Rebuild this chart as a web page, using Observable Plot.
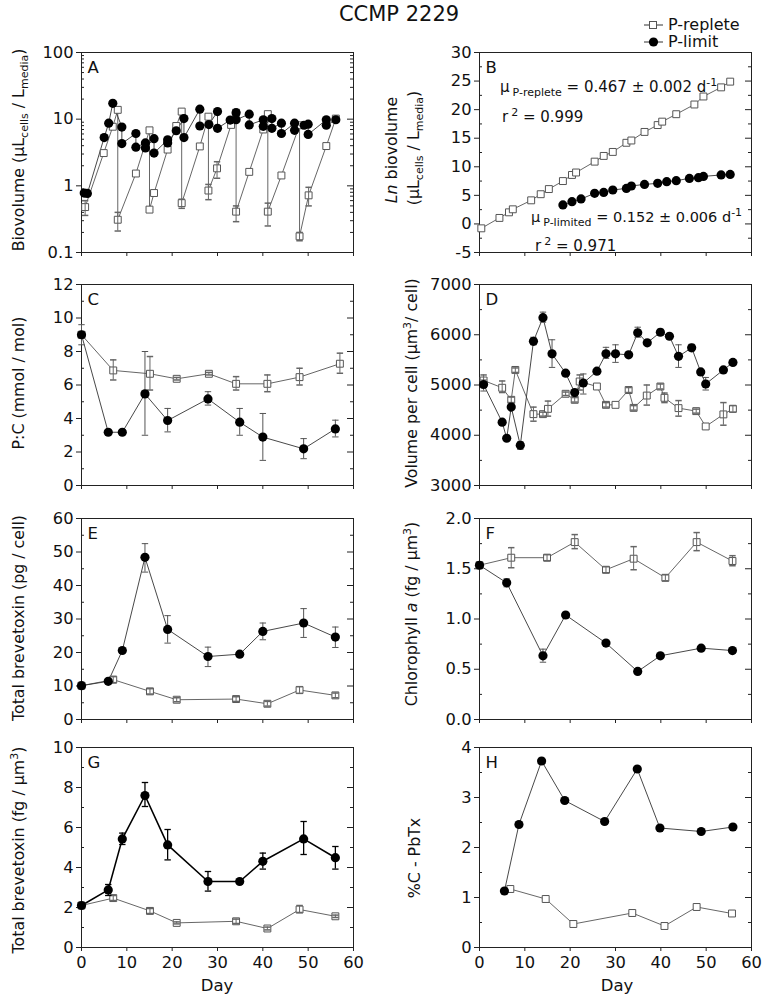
<!DOCTYPE html>
<html><head><meta charset="utf-8">
<script src="https://cdn.jsdelivr.net/npm/d3@7"></script>
<script src="https://cdn.jsdelivr.net/npm/@observablehq/plot@0.6"></script>
<style>
body{margin:0;background:#fff;font-family:"DejaVu Sans",sans-serif;color:#111;}
#wrap{position:relative;width:768px;height:1008px;overflow:hidden;background:#fff;}
.t{position:absolute;white-space:nowrap;line-height:18px;}
.yl{position:absolute;white-space:nowrap;font-size:15.8px;line-height:18px;transform:translate(-50%,-50%) rotate(-90deg);}
sub,sup{font-size:11px;line-height:0;}
.c{transform:translate(-50%,-50%);}
</style></head>
<body><div id="wrap"></div>
<script>
// ---------- data: [day, value, errLow, errHigh] ----------
const A_replete = [[0.8,0.48,0.36,0.60],[4.9,3.1],[6.9,7.7],[8.0,13.8],[8.0,0.31,0.21,0.40],[12.0,1.53],[15.0,6.8],[15.0,0.44],[16.0,0.78],[19.0,3.5],[20.9,7.9],[22.1,13.0],[22.1,0.55,0.46,0.63],[26.1,3.9],[28.0,10.9],[28.0,0.85,0.62,1.05],[29.9,1.83,1.3,2.3],[33.0,8.2],[34.1,12.5],[34.1,0.41,0.29,0.5],[37.0,1.62],[40.1,7.0],[41.1,11.9],[41.1,0.41,0.25,0.55],[44.1,1.43],[48.1,8.1],[48.1,0.175,0.15,0.2],[50.1,0.72,0.5,0.95],[54.0,3.95],[56.1,10.2]];
const A_limit = [[0.6,0.78],[1.3,0.77],[5.0,5.3],[6.0,8.7],[6.9,17.3],[8.9,7.6],[8.9,4.3],[12.0,6.1],[12.0,3.8],[14.1,4.4],[14.1,3.7],[16.0,5.1],[16.0,3.1],[19.0,4.9],[19.0,4.4],[20.9,6.7],[22.6,10.2],[22.6,5.3],[26.1,14.1],[26.1,7.9],[28.1,8.3],[30.0,13.0],[30.0,7.3],[32.8,9.7],[34.1,12.5],[34.1,9.8],[37.0,11.9],[37.0,8.2],[40.1,9.8],[40.1,7.8],[42.0,10.2],[42.0,7.3],[44.1,8.7],[44.1,6.1],[47.0,8.7],[47.0,6.8],[49.1,8.1],[50.0,8.4],[50.0,5.9],[54.0,9.8],[54.0,8.1],[56.1,9.8]];
const B_replete = [[0.4,-0.77],[4.4,1.05],[6.5,2.03],[7.35,2.56],[11.4,4.13],[13.5,5.2],[15.3,6.1],[18.4,7.5],[20.4,8.57],[21.3,9.0],[25.4,10.9],[27.4,11.9],[29.4,12.6],[32.4,14.2],[33.5,14.6],[36.4,16.1],[39.3,17.3],[40.3,17.9],[43.4,19.2],[47.4,20.9],[49.4,22.3],[53.3,23.9],[55.3,24.9]];
const B_limit = [[18.4,3.32],[20.4,3.9],[22.4,4.37],[25.4,5.35],[27.4,5.52],[29.4,5.94],[32.4,6.22],[33.5,6.64],[36.4,6.92],[39.3,7.1],[41.3,7.4],[43.4,7.57],[46.3,7.97],[48.3,8.09],[49.4,8.32],[53.3,8.57],[55.3,8.67]];
const C_replete = [[0,9.0],[7.0,6.87,6.3,7.5],[15.1,6.67,5.7,7.7],[21.0,6.37,6.3,6.45],[28.1,6.67,6.6,6.75],[34.1,6.07,5.7,6.5],[41.0,6.07,5.6,6.6],[48.1,6.47,6.0,7.0],[57.0,7.27,6.7,7.9]];
const C_limit = [[0,9.0,8.4,9.6],[5.9,3.18],[9.0,3.18],[14.0,5.47,3.0,8.0],[19.0,3.88,3.2,4.6],[27.9,5.17,4.8,5.6],[34.9,3.78,3.0,4.6],[40.0,2.89,1.5,4.3],[49.0,2.19,1.6,2.8],[56.0,3.38,2.9,3.9]];
const D_replete = [[0.9,5090,4950,5200],[5.0,4945,4850,5080],[7.0,4705,4650,4760],[7.9,5300,5250,5340],[11.9,4420,4280,4560],[14.0,4420,4380,4460],[15.1,4525,4380,4680],[19.0,4825,4790,4860],[21.0,4705,4660,4750],[22.1,5070,4900,5200],[25.9,4970],[27.9,4605,4560,4650],[30.0,4605],[32.9,4900,4850,4950],[34.0,4545,4500,4590],[36.9,4790,4600,5000],[39.9,4970,4920,5020],[40.8,4745,4650,4840],[43.9,4540,4380,4690],[47.8,4480,4440,4520],[49.9,4175],[53.8,4415,4200,4650],[55.9,4525,4460,4590]];
const D_limit = [[0.9,5010,4880,5100],[5.0,4260],[6.0,3940],[7.0,4560],[9.0,3800,3720,3870],[11.9,5870,5800,5950],[14.0,6340,6250,6450],[16.0,5620,5350,5900],[19.0,5235],[21.0,4850],[22.9,5040,4820,5220],[25.9,5275],[27.9,5620,5530,5750],[30.0,5620,5450,5800],[32.9,5600],[34.9,6040,5950,6150],[37.0,5840],[39.9,6050,5990,6110],[41.9,5970],[43.9,5570,5350,5800],[46.8,5740,5680,5810],[48.8,5260],[49.9,5020,4900,5150],[53.8,5300],[55.9,5450]];
const E_replete = [[0,10.1],[7.0,11.9,11.0,12.8],[15.1,8.4,7.6,9.2],[21.0,5.9,5.3,6.5],[34.1,6.1,5.4,6.8],[41.0,4.7,4.0,5.4],[48.1,8.8,7.8,9.8],[56.0,7.2,6.5,7.9]];
const E_limit = [[0,10.1],[5.9,11.4],[9.0,20.6],[14.0,48.4,44,52.5],[19.0,26.9,22.8,31],[27.9,18.8,15.8,21.6],[34.9,19.5],[40.0,26.3,23.8,28.8],[49.0,28.8,24.5,33.1],[56.0,24.6,21.5,27.6]];
const F_replete = [[0,1.535],[7.0,1.61,1.51,1.71],[14.9,1.61,1.58,1.64],[21.0,1.765,1.70,1.84],[27.9,1.49,1.46,1.52],[34.0,1.60,1.49,1.72],[41.0,1.41,1.38,1.44],[47.9,1.765,1.68,1.86],[55.8,1.577,1.53,1.63]];
const F_limit = [[0,1.535],[6.0,1.36,1.32,1.40],[14.0,0.634,0.57,0.70],[19.0,1.04],[27.9,0.76],[34.9,0.478],[39.9,0.634],[48.9,0.71],[55.8,0.686]];
const G_replete = [[0,2.1],[7.0,2.47,2.35,2.6],[15.1,1.83,1.7,1.95],[21.0,1.23,1.18,1.28],[34.1,1.31,1.2,1.42],[41.0,0.95,0.88,1.02],[48.1,1.9,1.75,2.1],[56.0,1.56,1.5,1.62]];
const G_limit = [[0,2.1,2.0,2.2],[5.9,2.88,2.6,3.15],[9.0,5.43,5.15,5.72],[14.0,7.6,7.05,8.25],[19.0,5.13,4.38,5.9],[27.9,3.3,2.82,3.8],[34.9,3.3,3.2,3.4],[40.0,4.31,3.92,4.72],[49.0,5.43,4.65,6.3],[56.0,4.49,3.92,5.05]];
const H_replete = [[6.8,1.17],[14.6,0.97],[20.7,0.47],[33.7,0.69],[40.8,0.43],[47.9,0.81],[55.7,0.68]];
const H_limit = [[5.5,1.13],[8.7,2.46],[13.7,3.73],[18.8,2.94],[27.6,2.52],[34.8,3.57],[39.8,2.39],[48.9,2.32],[55.9,2.41]];

// ---------- tick values ----------
const xTicks = [0,10,20,30,40,50,60];
const A_major = [0.1,1,10,100];
const A_minor = [0.2,0.3,0.4,0.5,0.6,0.7,0.8,0.9,2,3,4,5,6,7,8,9,20,30,40,50,60,70,80,90];
const B_major = [-5,0,5,10,15,20,25,30];
const B_minor = [-2.5,2.5,7.5,12.5,17.5,22.5,27.5];
const C_major = [0,2,4,6,8,10,12];
const C_minor = [1,3,5,7,9,11];
const D_major = [3000,4000,5000,6000,7000];
const D_minor = [3500,4500,5500,6500];
const E_major = [0,10,20,30,40,50,60];
const E_minor = [5,15,25,35,45,55];
const F_major = [0,0.5,1.0,1.5,2.0];
const F_minor = [0.25,0.75,1.25,1.75];
const G_major = [0,2,4,6,8,10];
const G_minor = [1,3,5,7,9];
const H_major = [0,1,2,3,4];
const H_minor = [0.5,1.5,2.5,3.5];

// ---------- layout ----------
const wrap = document.getElementById("wrap");
const W = 384, MT = 16;
const COLS = [{left:0, ml:81, mr:31}, {left:384, ml:95, mr:17}];
const ROWS = [{top:52,h:200,mb:12},{top:284,h:201,mb:12},{top:518,h:201,mb:12},{top:747,h:200,mb:50}];
const toRows = arr => arr.map(([day,v,lo,hi]) => ({day, v, lo, hi}));
const cap = {draw(ctx){ ctx.moveTo(-3.2,0); ctx.lineTo(3.2,0); }};
const ink = "#222";

function panel(cfg){
  const c = COLS[cfg.col], r = ROWS[cfg.row];
  const pw = W - c.ml - c.mr;
  const rep = toRows(cfg.rep), lim = toRows(cfg.lim);
  const repE = rep.filter(d => d.lo != null), limE = lim.filter(d => d.lo != null);
  const limInk = cfg.boldLim ? "#000" : "#333";
  const errInk = cfg.boldLim ? "#000" : "#555", errW = cfg.boldLim ? 1.3 : 1;
  const marks = [
    Plot.axisY(cfg.major, {anchor:"left", tickSize:5, tickPadding:3, tickFormat: cfg.fmt || (d => String(d)), label:null, stroke:ink}),
    Plot.tickY(cfg.minor, {y:d=>d, insetRight: pw-3, stroke:ink}),
    Plot.tickY(cfg.major, {y:d=>d, insetLeft: pw-6, stroke:ink}),
    Plot.tickY(cfg.minor, {y:d=>d, insetLeft: pw-3, stroke:ink}),
    Plot.axisX(xTicks, {anchor:"bottom", tickSize:4, tickPadding:5, label:null, stroke:ink, tickFormat: cfg.row === 3 ? (d => String(d)) : (() => "")}),
    Plot.frame({stroke:ink}),
    Plot.line(rep, {x:"day", y:"v", stroke:"#555", strokeWidth:0.9}),
    Plot.line(lim, {x:"day", y:"v", stroke:limInk, strokeWidth: cfg.boldLim ? 1.6 : 0.9}),
    Plot.dot(rep, {x:"day", y:"v", symbol:"square", r:3.9, fill:"white", stroke:"#555", strokeWidth:1}),
    Plot.ruleX(repE, {x:"day", y1:"lo", y2:"hi", stroke:"#666"}),
    Plot.dot(repE, {x:"day", y:"lo", symbol:cap, fill:"none", stroke:"#666"}),
    Plot.dot(repE, {x:"day", y:"hi", symbol:cap, fill:"none", stroke:"#666"}),
    Plot.ruleX(limE, {x:"day", y1:"lo", y2:"hi", stroke: errInk, strokeWidth: errW}),
    Plot.dot(limE, {x:"day", y:"lo", symbol:cap, fill:"none", stroke: errInk, strokeWidth: errW}),
    Plot.dot(limE, {x:"day", y:"hi", symbol:cap, fill:"none", stroke: errInk, strokeWidth: errW}),
    Plot.dot(lim, {x:"day", y:"v", r:4.6, fill:"#000", stroke:"none"}),
    Plot.text([cfg.letter], {text:d=>d, frameAnchor:"top-left", dx:6, dy:9, fontSize:16.5, fill:"#111"})
  ];
  const svg = Plot.plot({
    width: W, height: MT + r.h + r.mb,
    marginTop: MT, marginBottom: r.mb, marginLeft: c.ml, marginRight: c.mr,
    x: {domain:[0,60]},
    y: {type: cfg.type || "linear", domain: cfg.domain},
    style: {background:"transparent", fontFamily:"DejaVu Sans, sans-serif", fontSize:"16.3px", color:"#111", overflow:"visible"},
    marks
  });
  svg.style.position = "absolute";
  svg.style.left = c.left + "px";
  svg.style.top = (r.top - MT) + "px";
  wrap.appendChild(svg);
}

panel({col:0,row:0,letter:"A",type:"log",domain:[0.1,100],major:A_major,minor:A_minor,rep:A_replete,lim:A_limit});
panel({col:1,row:0,letter:"B",domain:[-5,30],major:B_major,minor:B_minor,rep:B_replete,lim:B_limit});
panel({col:0,row:1,letter:"C",domain:[0,12],major:C_major,minor:C_minor,rep:C_replete,lim:C_limit});
panel({col:1,row:1,letter:"D",domain:[3000,7000],major:D_major,minor:D_minor,rep:D_replete,lim:D_limit});
panel({col:0,row:2,letter:"E",domain:[0,60],major:E_major,minor:E_minor,rep:E_replete,lim:E_limit});
panel({col:1,row:2,letter:"F",domain:[0,2],major:F_major,minor:F_minor,fmt:d3.format(".1f"),rep:F_replete,lim:F_limit});
panel({col:0,row:3,letter:"G",domain:[0,10],major:G_major,minor:G_minor,rep:G_replete,lim:G_limit,boldLim:true});
panel({col:1,row:3,letter:"H",domain:[0,4],major:H_major,minor:H_minor,rep:H_replete,lim:H_limit});

// ---------- text ----------
function addText(html, x, y, cls, extra){
  const d = document.createElement("div");
  d.className = cls; d.innerHTML = html;
  d.style.left = x + "px"; d.style.top = y + "px";
  if (extra) Object.assign(d.style, extra);
  wrap.appendChild(d);
  return d;
}
addText("CCMP 2229", 399, 14, "t c", {fontSize:"21px"});
// y labels
addText("Biovolume (μL<sub>cells</sub> / L<sub>media</sub>)", 19, 150, "yl");
addText("<i>Ln</i> biovolume", 392, 150, "yl");
addText("(μL<sub>cells</sub> / L<sub>media</sub>)", 414, 148, "yl");
addText("P:C (mmol / mol)", 19, 383, "yl");
addText("Volume per cell (μm<sup>3</sup>/ cell)", 412, 383, "yl");
addText("Total brevetoxin (pg / cell)", 19, 618, "yl");
addText("Chlorophyll <i>a</i> (fg / μm<sup>3</sup>)", 412, 614, "yl");
addText("Total brevetoxin (fg / μm<sup>3</sup>)", 19, 850, "yl");
addText("%C - PbTx", 415, 858, "yl");
addText("Day", 217, 986, "t c", {fontSize:"16.5px"});
addText("Day", 617, 986, "t c", {fontSize:"16.5px"});
// annotations in B
addText("μ<sub style='margin-left:3px'>P-replete</sub> = 0.467 ± 0.002 d<sup>-1</sup>", 500, 78, "t", {fontSize:"15px"});
addText("r<sup style='margin-left:3px'>2</sup> = 0.999", 502, 108, "t", {fontSize:"15px"});
addText("μ<sub style='margin-left:3px'>P-limited</sub> = 0.152 ± 0.006 d<sup>-1</sup>", 531, 208, "t", {fontSize:"14.5px"});
addText("r<sup style='margin-left:3px'>2</sup> = 0.971", 535, 237, "t", {fontSize:"15px"});
// legend
const lg = document.createElement("div");
lg.style.position = "absolute"; lg.style.left = "640px"; lg.style.top = "14px";
lg.innerHTML = `<svg width="30" height="40" style="position:absolute;left:0;top:0">
<line x1="4" x2="23" y1="11" y2="11" stroke="#333"/><rect x="9.5" y="7.5" width="7" height="7" fill="white" stroke="#555"/>
<line x1="4" x2="23" y1="28" y2="28" stroke="#333"/><circle cx="13.5" cy="28" r="4.6" fill="#000"/></svg>`;
wrap.appendChild(lg);
addText("P-replete", 668, 16, "t", {fontSize:"16px"});
addText("P-limit", 668, 33, "t", {fontSize:"16px"});
</script></body></html>
